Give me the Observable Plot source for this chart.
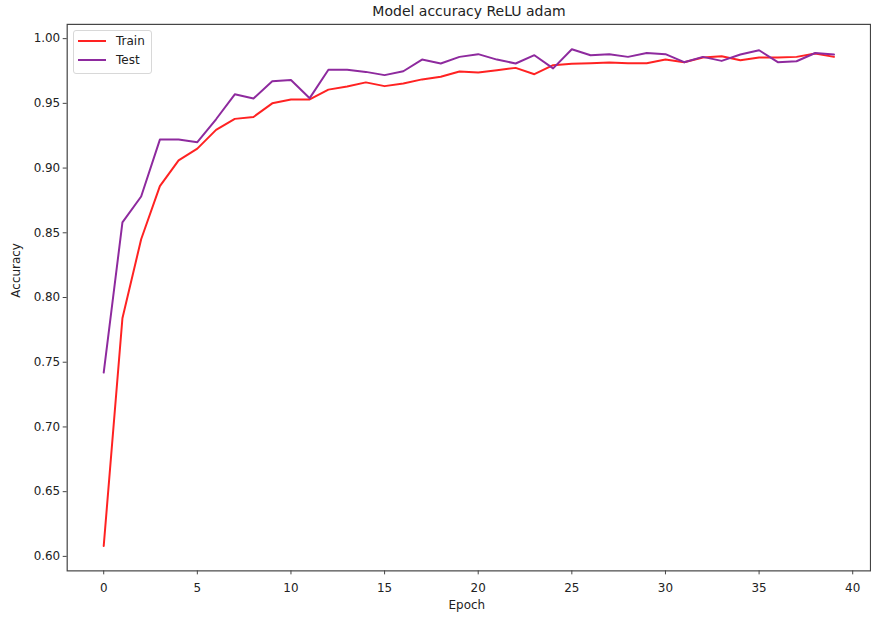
<!DOCTYPE html>
<html>
<head>
<meta charset="utf-8">
<script src="https://cdn.jsdelivr.net/npm/d3@7"></script>
<script src="https://cdn.jsdelivr.net/npm/@observablehq/plot@0.6"></script>
<style>
  html, body { margin: 0; padding: 0; background: #fff; }
  #wrap { position: relative; width: 871px; height: 621px; overflow: hidden; font-family: "DejaVu Sans", sans-serif; }
  #title { position: absolute; left: 0; width: 938px; top: 3px; text-align: center; font-size: 14px; color: #222; }
  #legend { position: absolute; left: 73px; top: 30px; width: 77px; height: 42px; border: 1px solid #d8d8d8; border-radius: 3px; background: rgba(255,255,255,0.85); font-size: 12px; color: #222; }
  .item { position: absolute; left: 4px; height: 14px; display: flex; align-items: center; }
  .swatch { width: 28px; height: 2px; margin-right: 10px; }
</style>
</head>
<body>
<div id="wrap">
  <div id="chart"></div>
  <div id="title"></div>
  <div id="legend"></div>
</div>
<script>
const title = "Model accuracy ReLU adam";
const xLabel = "Epoch";
const yLabel = "Accuracy";
const seriesNames = ["Train", "Test"];
const seriesColors = ["#ff2222", "#8e2a9e"];
const epochs = d3.range(0, 40);
const trainAcc = [0.608, 0.784, 0.845, 0.886, 0.906, 0.915, 0.9295, 0.938, 0.9395, 0.950,
  0.953, 0.953, 0.9606, 0.963, 0.9662, 0.9633, 0.9654, 0.9685, 0.9705, 0.9746,
  0.9738, 0.9756, 0.9774, 0.9725, 0.9795, 0.9805, 0.981, 0.9815, 0.981, 0.981,
  0.9838, 0.9818, 0.9854, 0.9864, 0.9833, 0.9854, 0.9854, 0.9859, 0.9885, 0.9859];
const testAcc = [0.742, 0.858, 0.878, 0.922, 0.922, 0.920, 0.9377, 0.957, 0.9538, 0.967,
  0.968, 0.954, 0.976, 0.976, 0.9743, 0.9718, 0.9748, 0.9838, 0.9808, 0.9859,
  0.988, 0.9838, 0.9808, 0.9872, 0.977, 0.9918, 0.9872, 0.988, 0.9859, 0.9889,
  0.988, 0.9818, 0.9859, 0.9828, 0.9877, 0.991, 0.9818, 0.9825, 0.9889, 0.9877];
const xTicks = [0, 5, 10, 15, 20, 25, 30, 35, 40];
const yTicks = [0.60, 0.65, 0.70, 0.75, 0.80, 0.85, 0.90, 0.95, 1.00];

const rows = [];
epochs.forEach((e, i) => rows.push({epoch: e, acc: trainAcc[i], series: seriesNames[0]}));
epochs.forEach((e, i) => rows.push({epoch: e, acc: testAcc[i], series: seriesNames[1]}));

const chart = Plot.plot({
  width: 875,
  height: 621,
  marginLeft: 67,
  marginRight: 1,
  marginTop: 24,
  marginBottom: 48,
  style: {fontFamily: "DejaVu Sans, sans-serif", fontSize: "12px", color: "#222", background: "#fff"},
  x: {domain: [-1.95, 40.95]},
  y: {domain: [0.5888, 1.0110]},
  color: {domain: seriesNames, range: seriesColors},
  marks: [
    Plot.axisX({ticks: xTicks, tickSize: 4, tickPadding: 9, fontSize: 12, stroke: "#444", label: null}),
    Plot.axisY({ticks: yTicks, tickSize: 4, tickPadding: 3, tickFormat: d3.format(".2f"), fontSize: 12, stroke: "#444", label: null}),
    Plot.text([xLabel], {frameAnchor: "bottom", dy: 38, fontSize: 12, fill: "#222", dx: -2}),
    Plot.text([yLabel], {frameAnchor: "left", dx: -51, rotate: -90, fontSize: 12, fill: "#222"}),
    Plot.line(rows, {x: "epoch", y: "acc", z: "series", stroke: "series", strokeWidth: 2}),
    Plot.frame({stroke: "#444", strokeWidth: 1.2})
  ]
});
document.getElementById("chart").appendChild(chart);
document.getElementById("title").textContent = title;

const legend = document.getElementById("legend");
seriesNames.forEach((name, i) => {
  const item = document.createElement("div");
  item.className = "item";
  item.style.top = (3 + i * 19) + "px";
  const sw = document.createElement("div");
  sw.className = "swatch";
  sw.style.background = seriesColors[i];
  const label = document.createElement("span");
  label.textContent = name;
  item.appendChild(sw);
  item.appendChild(label);
  legend.appendChild(item);
});
</script>
</body>
</html>
